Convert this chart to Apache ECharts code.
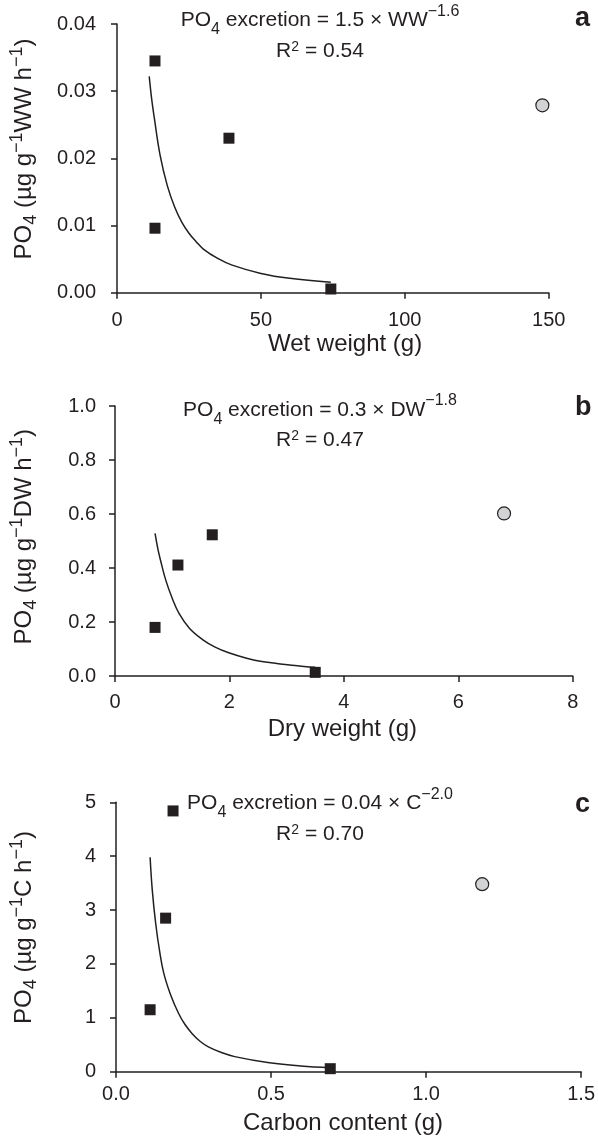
<!DOCTYPE html>
<html><head><meta charset="utf-8">
<script src="https://cdn.jsdelivr.net/npm/echarts@6/dist/echarts.min.js"></script>
<style>html,body{margin:0;padding:0;background:#fff}#c{width:598px;height:1138px}</style>
</head><body><div id="c"></div>
<script>
const INK = '#231f20';
const GREY = '#d1d3d4';
const FONT = '"Liberation Sans", Arial, Helvetica, sans-serif';

// ---- Panel a: wet weight ----
const wwXTicks = ['0', '50', '100', '150'];
const wwYTicks = ['0.00', '0.01', '0.02', '0.03', '0.04'];
const wwSquares = [[13.2, 0.0345], [13.2, 0.0096], [38.9, 0.0230], [74.3, 0.00055]];
const wwCircle = [[147.8, 0.0279]];
const wwFit = [[11.2, 0.0322], [12, 0.0290], [13, 0.0259], [15, 0.0204], [17.5, 0.0159], [20, 0.0128],
  [22.5, 0.0105], [25, 0.00886], [27.5, 0.0076], [30, 0.0065], [35, 0.0051], [40, 0.0041], [50, 0.00287],
  [60, 0.00214], [74.3, 0.00155]];

// ---- Panel b: dry weight ----
const dwXTicks = ['0', '2', '4', '6', '8'];
const dwYTicks = ['0.0', '0.2', '0.4', '0.6', '0.8', '1.0'];
const dwSquares = [[0.70, 0.180], [1.10, 0.411], [1.70, 0.523], [3.50, 0.0135]];
const dwCircle = [[6.80, 0.602]];
const dwFit = [[0.70, 0.528], [0.75, 0.47], [0.80, 0.425], [0.886, 0.356], [1.0, 0.288], [1.119, 0.232],
  [1.3, 0.177], [1.524, 0.136], [1.75, 0.107], [1.988, 0.086], [2.3, 0.066], [2.566, 0.054],
  [3.146, 0.039], [3.50, 0.032]];

// ---- Panel c: carbon content ----
const cXTicks = ['0.0', '0.5', '1.0', '1.5'];
const cYTicks = ['0', '1', '2', '3', '4', '5'];
const cSquares = [[0.184, 4.84], [0.160, 2.85], [0.110, 1.15], [0.691, 0.056]];
const cCircle = [[1.181, 3.48]];
const cFit = [[0.110, 3.98], [0.117, 3.37], [0.128, 2.75], [0.140, 2.26], [0.154, 1.83], [0.176, 1.43],
  [0.202, 1.08], [0.222, 0.88], [0.245, 0.71], [0.270, 0.57], [0.298, 0.46], [0.340, 0.355], [0.383, 0.28],
  [0.489, 0.170], [0.596, 0.108], [0.691, 0.075]];

const panelLetters = ['a', 'b', 'c'];
const xNames = ['Wet weight (g)', 'Dry weight (g)', 'Carbon content (g)'];
const yUnits = ['WW', 'DW', 'C'];
const eqCoef = ['1.5', '0.3', '0.04'];
const eqVar = ['WW', 'DW', 'C'];
const eqExp = ['\u22121.6', '\u22121.8', '\u22122.0'];
const r2 = ['0.54', '0.47', '0.70'];

// layout (pixels)
const grids = [
  {left: 114.3, top: 24, width: 434.4, height: 268.7},
  {left: 112.3, top: 406, width: 460.4, height: 270},
  {left: 113.3, top: 802.3, width: 469.2, height: 269.4}
];
const yLabelMargin = [21, 19, 20];
const xLabelMargin = [18, 16.5, 12.5];
const xNameGap = [39.2, 40.9, 39.2];
const xNamePad = [[0, 0, 0, 24.4], [0, 3, 0, 0], [0, 11, 0, 0]];
const yNameGap = [77, 75, 76];
const yNamePad = [[0, 0, 0, 18.7], [0, 0, 0, 8.6], [0, 0, 0, 19]];
const eqTop1 = [3.5, 392.8, 786.1];
const eqTop2 = [40.4, 428.7, 823.1];
const letterY = [18.9, 407.3, 804.6];

function tickAxis(ticks) {
  const vals = ticks.map(Number);
  const min = vals[0], max = vals[vals.length - 1], step = vals[1] - vals[0];
  return {min, max, interval: step,
    fmt: v => { const i = Math.round((v - min) / step); return ticks[i] !== undefined ? ticks[i] : ''; }};
}

const lineStyle = {color: INK, width: 1.5};
const xTickSets = [wwXTicks, dwXTicks, cXTicks];
const yTickSets = [wwYTicks, dwYTicks, cYTicks];
const squareSets = [wwSquares, dwSquares, cSquares];
const circleSets = [wwCircle, dwCircle, cCircle];
const fitSets = [wwFit, dwFit, cFit];

const xAxis = [], yAxis = [], series = [], graphic = [];
for (let i = 0; i < 3; i++) {
  const xa = tickAxis(xTickSets[i]);
  const ya = tickAxis(yTickSets[i]);
  xAxis.push({
    type: 'value', gridIndex: i, min: xa.min, max: xa.max, interval: xa.interval,
    axisLine: {lineStyle}, axisTick: {length: 6, lineStyle}, splitLine: {show: false},
    axisLabel: {formatter: xa.fmt, fontSize: 20, color: INK, fontFamily: FONT, margin: xLabelMargin[i]},
    name: xNames[i], nameLocation: 'middle', nameGap: xNameGap[i],
    nameTextStyle: {fontSize: 24, color: INK, fontFamily: FONT, padding: xNamePad[i]}
  });
  yAxis.push({
    type: 'value', gridIndex: i, min: ya.min, max: ya.max, interval: ya.interval,
    axisLine: {lineStyle}, axisTick: {length: 6, lineStyle}, splitLine: {show: false},
    axisLabel: {formatter: ya.fmt, fontSize: 20, color: INK, fontFamily: FONT, margin: yLabelMargin[i]},
    name: '{b|PO}{s|4}{b| (\u00b5g g}{p|\u22121}{b|' + yUnits[i] + ' h}{p|\u22121}{b|)}',
    nameLocation: 'middle', nameRotate: 90, nameGap: yNameGap[i],
    nameTextStyle: {
      color: INK, fontFamily: FONT, fontSize: 24, padding: yNamePad[i],
      rich: {
        b: {fontSize: 24, lineHeight: 32, fontFamily: FONT, color: INK},
        s: {fontSize: 18, lineHeight: 18, verticalAlign: 'bottom', fontFamily: FONT, color: INK},
        p: {fontSize: 18, lineHeight: 18, verticalAlign: 'top', fontFamily: FONT, color: INK}
      }
    }
  });
  series.push({
    type: 'line', xAxisIndex: i, yAxisIndex: i, data: fitSets[i], showSymbol: false, symbol: 'none',
    smooth: 0.4, lineStyle: {color: INK, width: 1.5, opacity: 1}, silent: true, z: 2
  });
  series.push({
    type: 'scatter', xAxisIndex: i, yAxisIndex: i, data: squareSets[i], symbol: 'rect', symbolSize: 11,
    itemStyle: {color: INK, opacity: 1}, z: 3
  });
  series.push({
    type: 'scatter', xAxisIndex: i, yAxisIndex: i, data: circleSets[i], symbol: 'circle', symbolSize: 13,
    itemStyle: {color: GREY, borderColor: INK, borderWidth: 1.2, opacity: 1}, z: 3
  });
  graphic.push({
    type: 'text', x: 320, y: eqTop1[i],
    style: {
      text: '{b|PO}{s|4}{b| excretion = ' + eqCoef[i] + ' \u00d7 ' + eqVar[i] + '}{p|' + eqExp[i] + '}',
      textAlign: 'center', textVerticalAlign: 'top', align: 'center', verticalAlign: 'top',
      fontFamily: FONT, fontSize: 21, fill: INK,
      rich: {
        b: {fontSize: 21, lineHeight: 34.3, fontFamily: FONT, fill: INK, color: INK},
        s: {fontSize: 16, lineHeight: 19, verticalAlign: 'bottom', fontFamily: FONT, fill: INK, color: INK},
        p: {fontSize: 16, lineHeight: 16, verticalAlign: 'top', fontFamily: FONT, fill: INK, color: INK}
      }
    }
  });
  graphic.push({
    type: 'text', x: 320, y: eqTop2[i],
    style: {
      text: '{b|R}{q|2}{b| = ' + r2[i] + '}',
      textAlign: 'center', textVerticalAlign: 'top', align: 'center', verticalAlign: 'top',
      fontFamily: FONT, fontSize: 21, fill: INK,
      rich: {
        b: {fontSize: 21, lineHeight: 22.6, fontFamily: FONT, fill: INK, color: INK},
        q: {fontSize: 14, lineHeight: 14, verticalAlign: 'top', fontFamily: FONT, fill: INK, color: INK}
      }
    }
  });
  graphic.push({
    type: 'text', x: 575, y: letterY[i],
    style: {text: panelLetters[i], fontFamily: FONT, fontSize: 27, fontWeight: 'bold', fill: INK,
      textAlign: 'left', textVerticalAlign: 'middle', align: 'left', verticalAlign: 'middle'}
  });
}

const chart = echarts.init(document.getElementById('c'), null, {renderer: 'canvas'});
chart.setOption({
  animation: false,
  backgroundColor: '#ffffff',
  textStyle: {fontFamily: FONT},
  grid: grids.map(g => Object.assign({containLabel: false}, g)),
  xAxis, yAxis, series, graphic
});
</script></body></html>
